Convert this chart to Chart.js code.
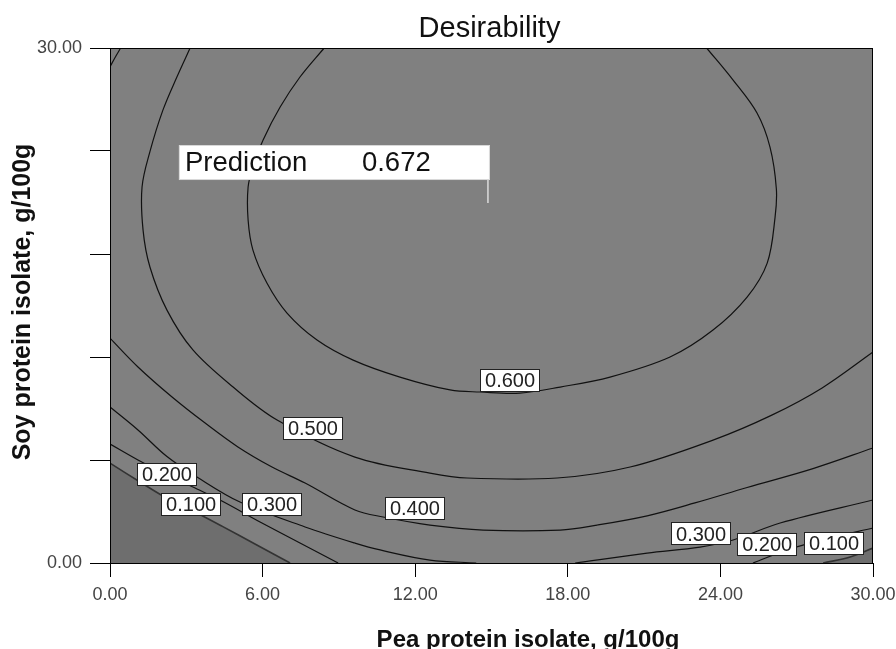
<!DOCTYPE html>
<html><head><meta charset="utf-8">
<script src="https://cdn.jsdelivr.net/npm/chart.js@4.4.1/dist/chart.umd.min.js"></script>
<style>html,body{margin:0;padding:0;background:#fff;}canvas{display:block;}</style>
</head><body>
<canvas id="c" width="896" height="649"></canvas>
<script>
// ---- text ----
const chartTitle = 'Desirability';
const xAxisTitle = 'Pea protein isolate, g/100g';
const yAxisTitle = 'Soy protein isolate, g/100g';

// ---- ticks ----
const xTicks = [0, 6, 12, 18, 24, 30];
const yTicks = [0, 6, 12, 18, 24, 30];
const yTickLabelsShown = [0, 30];

// ---- contour lines [pea, soy] ----
const contour060 = [[8.42,30],[7.47,28.31],[6.69,26.56],[6.02,24.64],[5.62,23.07],[5.43,21.9],[5.43,19.98],[5.62,18.23],[6.17,16.31],[6.96,14.56],[8.14,12.99],[9.56,11.82],[11.4,10.83],[13.37,10.08],[14.55,9.96],[16.12,9.9],[17.7,10.25],[19.66,10.83],[22.02,12.0],[23.71,13.57],[25.05,15.49],[25.84,17.47],[26.15,20.15],[26.2,21.8],[25.95,24.23],[25.44,26.21],[24.5,28.13],[23.46,30]];
const contour050 = [[3.15,30],[2.63,28.31],[2.08,26.38],[1.57,23.96],[1.26,21.9],[1.3,19.39],[1.57,17.24],[2.24,14.73],[3.26,12.41],[4.84,10.25],[6.57,8.33],[9.63,6.17],[12.58,5.24],[14.04,4.95],[17.58,4.95],[20.45,5.59],[23.71,7.16],[26.0,8.6],[28.0,10.2],[30,12.29]];
const contour040Main = [[0,13.1],[1.1,11.42],[2.44,9.67],[3.74,8.15],[5.03,6.76],[6.37,5.59],[7.67,4.66],[9.63,3.09],[10.74,2.68],[12.58,2.21],[14.67,1.92],[17.7,1.92],[19.15,2.21],[21.12,2.75],[23.0,3.5],[25.05,4.4],[27.64,5.5],[30,6.7]];
const contour040Corner = [[0,28.9],[0.2,29.45],[0.42,30]];
const contour030Left = [[0,9.09],[1.1,7.75],[2.24,6.2],[3.42,5.01],[5.11,3.55],[7.67,2.1],[9.63,1.16],[10.62,0.76],[12.58,0.17],[14.4,0]];
const contour030Right = [[18.29,0],[21.12,0.58],[23.2,0.93],[24.5,1.34],[26.35,2.33],[30,3.67]];
const contour020Left = [[0,6.93],[1.1,6.0],[2.24,5.13],[3.42,4.31],[4.4,3.61],[5.9,2.39],[7.47,1.16],[8.97,0]];
const contour020Right = [[25.28,0],[26.74,0.82],[28.31,1.46],[30,2.04]];
const contour010Left = [[0,5.82],[1.18,4.72],[2.16,3.84],[3.19,3.09],[4.4,2.15],[5.7,1.11],[7.08,0]];
const contour010Right = [[28.04,0],[29.1,0.35],[30,0.87]];

// ---- contour labels ----
const labelTexts = ['0.600','0.500','0.400','0.300','0.200','0.100','0.300','0.200','0.100'];
const labelX = [15.73, 7.98, 11.99, 6.37, 2.24, 3.19, 23.24, 25.84, 28.47];
const labelY = [10.66, 7.86, 3.20, 3.38, 5.13, 3.38, 1.69, 1.05, 1.11];

// ---- prediction flag ----
const predictionLabel = 'Prediction';
const predictionValue = 0.672;
const predictionX = 14.86;
const predictionY = 20.97;

const FONT = '"Liberation Sans", Arial, sans-serif';

function lineDs(label, pts, extra) {
  return Object.assign({
    label: label,
    data: pts.map(p => ({x: p[0], y: p[1]})),
    showLine: true, pointRadius: 0, pointHoverRadius: 0,
    borderColor: '#111', borderWidth: 1.2, tension: 0.35,
    fill: false, clip: 0
  }, extra || {});
}

const decorPlugin = {
  id: 'decor',
  beforeDraw(chart) {
    const {ctx, chartArea: a} = chart;
    ctx.save();
    ctx.fillStyle = '#fff';
    ctx.fillRect(0, 0, chart.width, chart.height);
    ctx.fillStyle = '#808080';
    ctx.fillRect(a.left, a.top, a.right - a.left, a.bottom - a.top);
    ctx.restore();
  },
  afterDatasetsDraw(chart) {
    const {ctx, chartArea: a, scales} = chart;
    ctx.save();
    ctx.strokeStyle = '#000';
    ctx.lineWidth = 1;
    ctx.strokeRect(a.left + 0.5, a.top + 0.5, a.right - a.left - 1, a.bottom - a.top);
    // contour labels
    ctx.font = '20px ' + FONT;
    ctx.textAlign = 'center';
    ctx.textBaseline = 'middle';
    for (let i = 0; i < labelTexts.length; i++) {
      const px = scales.x.getPixelForValue(labelX[i]);
      const py = scales.y.getPixelForValue(labelY[i]);
      const w = ctx.measureText(labelTexts[i]).width + 10;
      const h = 23;
      ctx.fillStyle = '#fff';
      ctx.fillRect(Math.round(px - w / 2), Math.round(py - h / 2), Math.round(w), h);
      ctx.strokeStyle = '#222';
      ctx.strokeRect(Math.round(px - w / 2) + 0.5, Math.round(py - h / 2) + 0.5, Math.round(w) - 1, h - 1);
      ctx.fillStyle = '#222';
      ctx.fillText(labelTexts[i], px, py + 1);
    }
    // prediction flag
    const fx = scales.x.getPixelForValue(predictionX);
    const fy = scales.y.getPixelForValue(predictionY);
    ctx.strokeStyle = '#dcdcdc';
    ctx.lineWidth = 1.5;
    ctx.beginPath();
    ctx.moveTo(fx, fy);
    ctx.lineTo(fx, fy - 24);
    ctx.stroke();
    const bw = 311, bh = 35;
    const bx = fx + 2 - bw, by = fy - 23 - bh;
    ctx.fillStyle = '#fff';
    ctx.fillRect(bx, by, bw, bh);
    ctx.strokeStyle = '#d8d8d8';
    ctx.lineWidth = 1;
    ctx.strokeRect(bx + 0.5, by + 0.5, bw - 1, bh - 1);
    ctx.fillStyle = '#111';
    ctx.font = '27.5px ' + FONT;
    ctx.textAlign = 'left';
    ctx.textBaseline = 'alphabetic';
    ctx.fillText(predictionLabel, bx + 6, by + 26);
    ctx.fillText(predictionValue.toFixed(3), bx + 183, by + 26);
    ctx.restore();
  },
  afterDraw(chart) {
    const {ctx} = chart;
    ctx.save();
    ctx.fillStyle = '#111';
    ctx.textBaseline = 'alphabetic';
    ctx.textAlign = 'center';
    ctx.font = '29px ' + FONT;
    ctx.fillText(chartTitle, 489.5, 37);
    ctx.font = 'bold 24px ' + FONT;
    ctx.fillText(xAxisTitle, 528, 647);
    ctx.translate(30, 302);
    ctx.rotate(-Math.PI / 2);
    ctx.font = 'bold 25px ' + FONT;
    ctx.fillText(yAxisTitle, 0, 0);
    ctx.restore();
  }
};

new Chart(document.getElementById('c'), {
  type: 'scatter',
  data: {
    datasets: [
      lineDs('0.100 (low)', contour010Left, {fill: 'origin', backgroundColor: '#6e6e6e', borderWidth: 1.6, borderColor: '#333'}),
      lineDs('0.100 (right)', contour010Right, {fill: 'origin', backgroundColor: '#6e6e6e', borderWidth: 1.6, borderColor: '#333'}),
      lineDs('0.200', contour020Left),
      lineDs('0.200 (right)', contour020Right),
      lineDs('0.300', contour030Left),
      lineDs('0.300 (right)', contour030Right),
      lineDs('0.400', contour040Main),
      lineDs('0.400 (corner)', contour040Corner),
      lineDs('0.500', contour050),
      lineDs('0.600', contour060)
    ]
  },
  options: {
    responsive: false,
    animation: false,
    devicePixelRatio: 1,
    layout: {padding: {top: 48, right: 23, left: 0, bottom: 0}},
    plugins: {legend: {display: false}, title: {display: false}, tooltip: {enabled: false}},
    scales: {
      x: {
        type: 'linear', min: 0, max: 30,
        afterBuildTicks(s) { s.ticks = xTicks.map(v => ({value: v})); },
        afterFit(s) { s.height = 86; s.paddingLeft = 0; s.paddingRight = 0; },
        ticks: {
          color: '#444', font: {size: 18, family: FONT}, padding: 7,
          maxRotation: 0, autoSkip: false,
          callback: v => Number(v).toFixed(2)
        },
        grid: {display: true, drawOnChartArea: false, drawTicks: true, tickLength: 14, color: '#000', lineWidth: 1},
        border: {display: true, color: '#000', width: 1}
      },
      y: {
        type: 'linear', min: 0, max: 30,
        afterBuildTicks(s) { s.ticks = yTicks.map(v => ({value: v})); },
        afterFit(s) { s.width = 110; s.paddingTop = 0; s.paddingBottom = 0; },
        ticks: {
          color: '#444', font: {size: 18, family: FONT}, padding: 8,
          autoSkip: false,
          callback: v => yTickLabelsShown.includes(Number(v)) ? Number(v).toFixed(2) : ''
        },
        grid: {display: true, drawOnChartArea: false, drawTicks: true, tickLength: 20, color: '#000', lineWidth: 1},
        border: {display: true, color: '#000', width: 1}
      }
    }
  },
  plugins: [decorPlugin]
});
</script>
</body></html>
